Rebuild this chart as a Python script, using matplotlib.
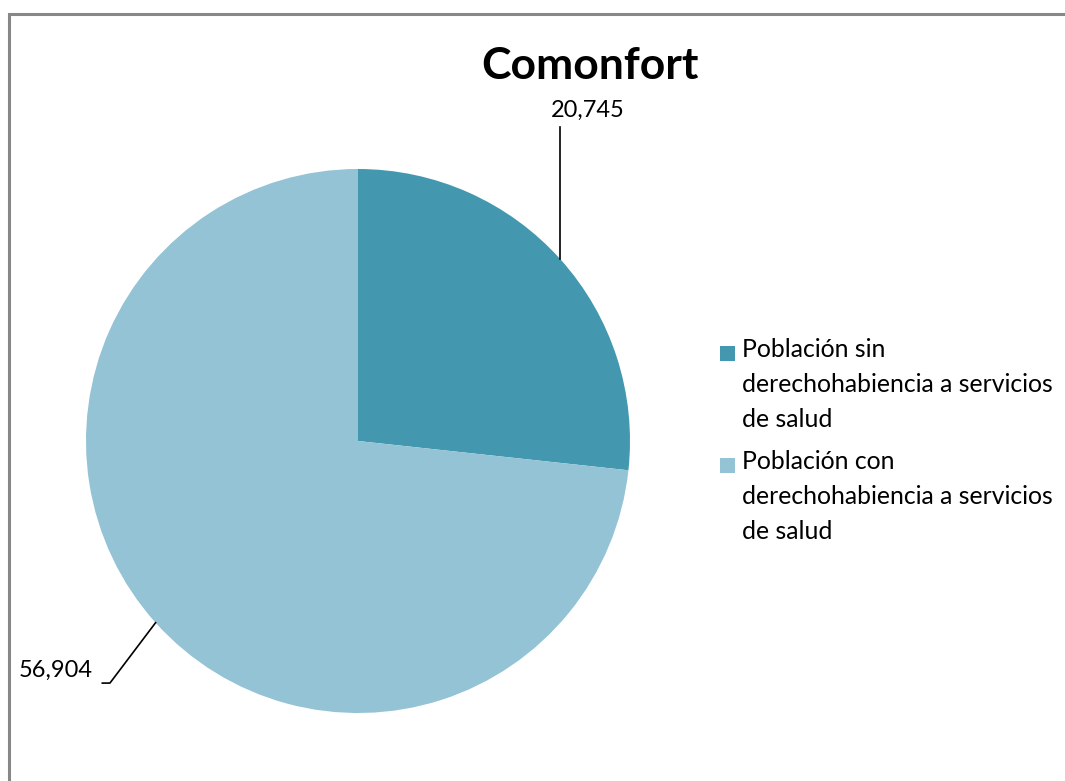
import numpy as np
import matplotlib
matplotlib.use("Agg")
import matplotlib.pyplot as plt
from matplotlib.patches import Rectangle

title = "Comonfort"
categories = ["Población sin\nderechohabiencia a servicios\nde salud",
              "Población con\nderechohabiencia a servicios\nde salud"]
values = [20745, 56904]
value_labels = ["20,745", "56,904"]
colors = ["#4398B0", "#93C3D4"]

plt.rcParams['font.family'] = ['Lato', 'DejaVu Sans']

W, H = 1065, 781
fig = plt.figure(figsize=(W / 100, H / 100), dpi=100)

# chart border
fig.patches.append(Rectangle((9 / W, -0.05), 1.1, 1 - 14 / H + 0.05,
                             transform=fig.transFigure, fill=False,
                             edgecolor="#878787", linewidth=2.2))

ax = fig.add_axes([86 / W, (H - 713) / H, 544 / W, 544 / H])
wedges, _ = ax.pie(values, colors=colors, startangle=90, counterclock=False,
                   radius=1.0, wedgeprops=dict(linewidth=0))
ax.set_xlim(-1, 1)
ax.set_ylim(-1, 1)
ax.set_aspect('equal')
ax.axis('off')

# data labels with leader lines
w0 = wedges[0]
mid0 = np.deg2rad((w0.theta1 + w0.theta2) / 2)
x0, y0 = np.cos(mid0), np.sin(mid0)
ax.plot([x0, x0], [y0, 1.154], color="black", lw=1.2, clip_on=False)
ax.text(x0 + 0.10, 1.215, value_labels[0], ha="center", va="center",
        fontsize=17, clip_on=False)

w1 = wedges[1]
mid1 = np.deg2rad((w1.theta1 + w1.theta2) / 2)
x1, y1 = np.cos(mid1), np.sin(mid1)
ax.plot([x1, -0.912, -0.94], [y1, -0.89, -0.89], color="black", lw=1.2,
        clip_on=False)
ax.text(-0.975, -0.845, value_labels[1], ha="right", va="center",
        fontsize=17, clip_on=False)

fig.text(590 / W, 1 - 66 / H, title, ha="center", va="center",
         fontsize=32, fontweight="bold")

# legend (handles aligned with the first line of each entry)
entry_tops = [353, 465]
for cat, col, yc in zip(categories, colors, entry_tops):
    fig.patches.append(Rectangle((720 / W, 1 - (yc + 7.5) / H), 15 / W, 15 / H,
                                 transform=fig.transFigure, facecolor=col,
                                 edgecolor="none"))
    fig.text(742 / W, 1 - (yc - 15) / H, cat, ha="left", va="top",
             fontsize=17.8, linespacing=1.62)

fig.savefig("out.png", dpi=100, facecolor="white")
